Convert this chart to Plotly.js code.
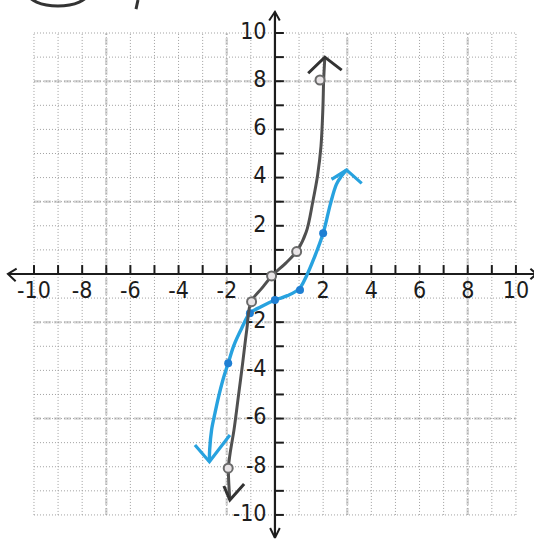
<!DOCTYPE html>
<html>
<head>
<meta charset="utf-8">
<script src="https://cdn.plot.ly/plotly-3.0.1.min.js"></script>
<style>
  html, body { margin: 0; padding: 0; background: #fff; }
  #plot { width: 534px; height: 540px; }
</style>
</head>
<body>
<div id="plot"></div>
<script>
// Grey curve: y = x^3, sketched through its plotted points
const cubeX = [-1.87, -1.93, -1.86, -1.70, -1.52, -1.34, -1.17, -0.99, -0.55, -0.10, 0.45, 0.93, 1.30, 1.57, 1.77, 1.91, 1.99, 2.02, 2.07];
const cubeY = [-9.38, -8.06, -7.44, -6.47, -5.10, -3.70, -2.32, -1.15, -0.60, -0.05, 0.45, 0.98, 1.75, 3.00, 4.10, 5.30, 6.90, 8.00, 9.00];
const cubePtX = [-1.94, -0.97, -0.14, 0.90, 1.87];
const cubePtY = [-8.06, -1.15, -0.08, 0.93, 8.05];

// Blue curve: the transformed cubic, sketched through its plotted points
const transX = [-2.72, -2.71, -2.63, -2.49, -2.34, -2.16, -1.94, -1.70, -1.38, -1.04, -0.58, 0.00, 0.52, 1.00, 1.30, 1.62, 2.00, 2.30, 2.55, 2.76, 2.97];
const transY = [-7.79, -7.30, -6.47, -5.78, -5.10, -4.40, -3.70, -2.95, -2.25, -1.63, -1.36, -1.08, -0.90, -0.62, -0.10, 0.65, 1.69, 2.90, 3.72, 4.06, 4.32];
const transPtX = [-1.94, -1.04, 0.00, 1.04, 2.00];
const transPtY = [-3.70, -1.63, -1.08, -0.66, 1.69];

// Open arrowheads at the curve ends: [wing, tip, wing]
const cubeTopHeadX = [1.38, 2.07, 2.77];
const cubeTopHeadY = [8.33, 9.00, 8.46];
const cubeBotHeadX = [-2.12, -1.87, -1.28];
const cubeBotHeadY = [-8.80, -9.38, -8.72];
const transTopHeadX = [2.35, 2.97, 3.60];
const transTopHeadY = [3.93, 4.32, 3.76];
const transBotHeadX = [-3.32, -2.72, -1.87];
const transBotHeadY = [-7.10, -7.79, -6.68];

// Coordinate grid and axes
const gridVals = [-10, -9, -8, -7, -6, -5, -4, -3, -2, -1, 0, 1, 2, 3, 4, 5, 6, 7, 8, 9, 10];
const gridHeavyX = [-7, -2, 3, 8];
const gridHeavyY = [8, 3, -2, -6];
const axisXEnds = [-11.08, 10.85];
const axisYEnds = [-10.95, 10.88];
const leftHeadX = [-10.72, -11.08, -10.76];
const leftHeadY = [0.22, 0.00, -0.30];
const rightHeadX = [10.60, 10.85, 10.60];
const rightHeadY = [0.22, 0.00, -0.22];
const topHeadX = [-0.24, 0.00, 0.20];
const topHeadY = [10.52, 10.88, 10.52];
const bottomHeadX = [-0.20, 0.00, 0.20];
const bottomHeadY = [-10.54, -10.95, -10.54];
const tickLen = 0.37;

// Axis numbering
const tickLabelVals = [-10, -8, -6, -4, -2, 2, 4, 6, 8, 10];
const tickLabels = ['-10', '-8', '-6', '-4', '-2', '2', '4', '6', '8', '10'];

const INK = '#1c1c1c';
const PENCIL = '#505050';
const BLUE = '#27a2df';
const BLUE_DOT = '#1f7fd3';
const LABEL_FONT = { family: '"DejaVu Sans Condensed", "Liberation Sans", sans-serif', size: 23, color: INK };

function segments(pairs) {
  const xs = [], ys = [];
  pairs.forEach(p => { xs.push(p[0], p[2], null); ys.push(p[1], p[3], null); });
  return { x: xs, y: ys };
}
function lineTrace(x, y, color, width, dash, shape) {
  return {
    type: 'scatter', mode: 'lines', x: x, y: y, hoverinfo: 'skip', showlegend: false,
    line: { color: color, width: width, dash: dash || 'solid', shape: shape || 'linear', smoothing: 1 }
  };
}

const lo = gridVals[0], hi = gridVals[gridVals.length - 1];
const gridLines = segments([].concat(
  gridVals.map(v => [lo, v, hi, v]),
  gridVals.map(v => [v, lo, v, hi])
));
const heavyLines = segments([].concat(
  gridHeavyY.map(v => [lo, v, hi, v]),
  gridHeavyX.map(v => [v, lo, v, hi])
));
const nonZero = gridVals.filter(v => v !== 0);
const tickMarks = segments([].concat(
  nonZero.map(v => [v, 0, v, tickLen]),
  nonZero.map(v => [0, v, tickLen, v])
));

const data = [
  lineTrace(heavyLines.x, heavyLines.y, '#d6d6d6', 2.5, '7px,3px'),
  lineTrace(gridLines.x, gridLines.y, '#a0a0a0', 1, '1px,2px'),
  // axes
  lineTrace(axisXEnds, [0, 0], INK, 2.2),
  lineTrace([0, 0], axisYEnds, INK, 2.2),
  lineTrace(tickMarks.x, tickMarks.y, INK, 2),
  lineTrace(leftHeadX, leftHeadY, INK, 2),
  lineTrace(rightHeadX, rightHeadY, INK, 2),
  lineTrace(topHeadX, topHeadY, INK, 2),
  lineTrace(bottomHeadX, bottomHeadY, INK, 2),
  // axis numbers
  {
    type: 'scatter', mode: 'text', x: tickLabelVals, y: tickLabelVals.map(() => -0.75),
    text: tickLabels, textposition: 'middle center', textfont: LABEL_FONT,
    hoverinfo: 'skip', showlegend: false, cliponaxis: false
  },
  {
    type: 'scatter', mode: 'text', x: tickLabelVals.map(() => -0.35), y: tickLabelVals,
    text: tickLabels, textposition: 'middle left', textfont: LABEL_FONT,
    hoverinfo: 'skip', showlegend: false, cliponaxis: false
  },
  // blue curve
  lineTrace(transX, transY, BLUE, 3.4, 'solid', 'spline'),
  lineTrace(transTopHeadX, transTopHeadY, BLUE, 3.2),
  lineTrace(transBotHeadX, transBotHeadY, BLUE, 3.2),
  {
    type: 'scatter', mode: 'markers', x: transPtX, y: transPtY, hoverinfo: 'skip', showlegend: false,
    marker: { color: BLUE_DOT, size: 8, line: { width: 0 } }
  },
  // grey curve
  lineTrace(cubeX, cubeY, PENCIL, 3, 'solid', 'spline'),
  lineTrace(cubeTopHeadX, cubeTopHeadY, '#333333', 3),
  lineTrace(cubeBotHeadX, cubeBotHeadY, '#333333', 3),
  {
    type: 'scatter', mode: 'markers', x: cubePtX, y: cubePtY, hoverinfo: 'skip', showlegend: false,
    marker: { symbol: 'circle', color: '#e8e4e6', size: 9, line: { color: '#6a6a6a', width: 2 } }
  }
];

const layout = {
  width: 534, height: 540,
  margin: { l: 0, r: 0, t: 0, b: 0, pad: 0 },
  paper_bgcolor: '#ffffff', plot_bgcolor: '#ffffff',
  xaxis: { range: [-11.41, 10.75], visible: false, fixedrange: true },
  yaxis: { range: [-11.04, 11.37], visible: false, fixedrange: true },
  shapes: [
    // pen marks at the top edge of the page
    { type: 'circle', xref: 'paper', yref: 'paper', x0: 0.052, x1: 0.165, y0: 0.9889, y1: 1.0385,
      line: { color: '#333333', width: 3 } },
    { type: 'line', xref: 'paper', yref: 'paper', x0: 0.2584, y0: 1.0, x1: 0.2547, y1: 0.983,
      line: { color: '#333333', width: 3 } }
  ]
};

Plotly.newPlot('plot', data, layout, { staticPlot: true, displayModeBar: false });
</script>
</body>
</html>
